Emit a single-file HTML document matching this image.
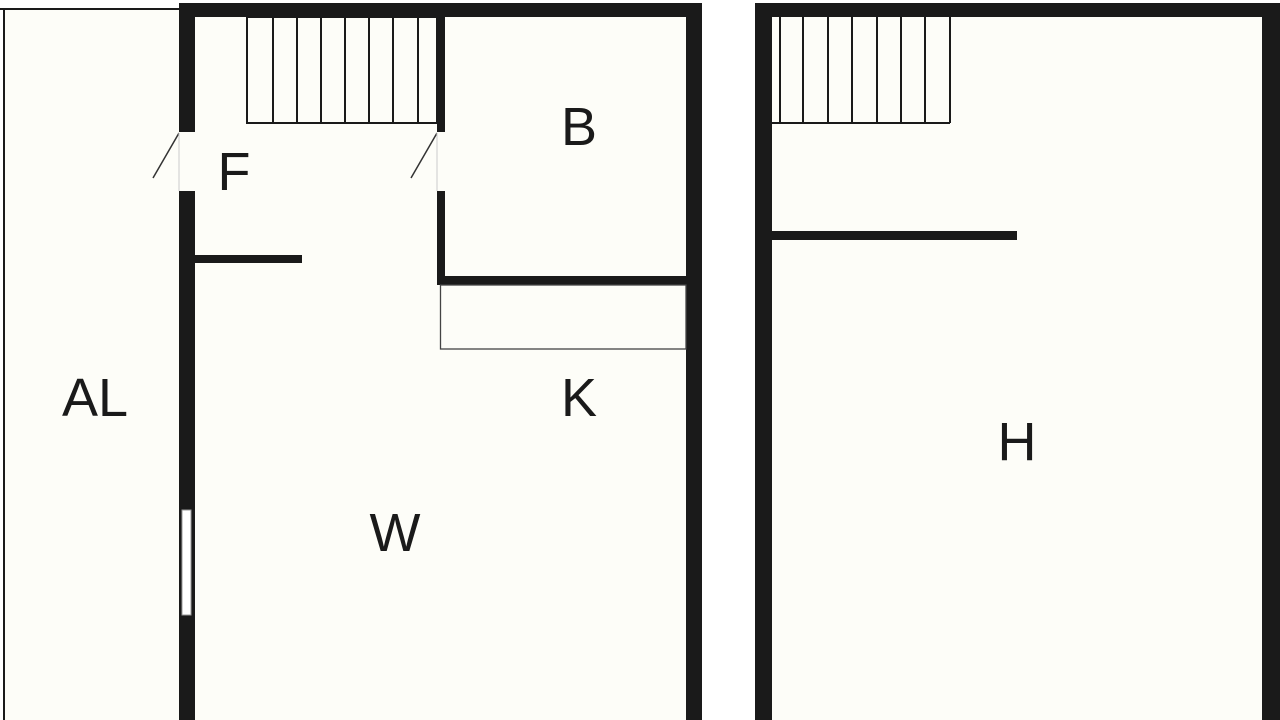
<!DOCTYPE html>
<html><head><style>html,body{margin:0;padding:0;background:#fff;width:1280px;height:720px;overflow:hidden}</style></head>
<body>
<svg width="1280" height="720" xmlns="http://www.w3.org/2000/svg" font-family="Liberation Sans, sans-serif">
<rect x="0" y="0" width="1280" height="720" fill="#fff"/>
<rect x="4" y="9" width="176" height="711" fill="#fdfdf8"/>
<rect x="179" y="3" width="523" height="717" fill="#fdfdf8"/>
<rect x="755" y="3" width="525" height="717" fill="#fdfdf8"/>
<g fill="#1a1a1a">
<!-- AL outline -->
<rect x="0" y="8" width="180" height="2"/>
<rect x="3" y="8" width="2" height="712"/>
<!-- left building -->
<rect x="179" y="3" width="523" height="14"/>
<rect x="179" y="3" width="16" height="129"/>
<rect x="179" y="191" width="16" height="529"/>
<rect x="686" y="3" width="16" height="717"/>
<rect x="195" y="255" width="107" height="8"/>
<rect x="437" y="17" width="8" height="115"/>
<rect x="437" y="191" width="8" height="94"/>
<rect x="437" y="276" width="249" height="9"/>
<!-- right building -->
<rect x="755" y="3" width="525" height="14"/>
<rect x="755" y="3" width="17" height="717"/>
<rect x="1262" y="3" width="18" height="717"/>
<rect x="772" y="231" width="245" height="9"/>
</g>
<!-- window -->
<rect x="182" y="510" width="9" height="105" fill="#fff" stroke="#999" stroke-width="1"/>
<g stroke="#1a1a1a" stroke-width="2" fill="none">
<rect x="247" y="17" width="190" height="106"/>
<line x1="273" y1="17" x2="273" y2="123"/><line x1="297" y1="17" x2="297" y2="123"/>
<line x1="321" y1="17" x2="321" y2="123"/><line x1="345" y1="17" x2="345" y2="123"/>
<line x1="369" y1="17" x2="369" y2="123"/><line x1="393" y1="17" x2="393" y2="123"/>
<line x1="418" y1="17" x2="418" y2="123"/>
<line x1="772" y1="123" x2="950" y2="123"/><line x1="950" y1="17" x2="950" y2="123"/>
<line x1="780" y1="17" x2="780" y2="123"/><line x1="803" y1="17" x2="803" y2="123"/>
<line x1="828" y1="17" x2="828" y2="123"/><line x1="852" y1="17" x2="852" y2="123"/>
<line x1="877" y1="17" x2="877" y2="123"/><line x1="901" y1="17" x2="901" y2="123"/>
<line x1="925" y1="17" x2="925" y2="123"/>
</g>
<g stroke="#333" stroke-width="1.5">
<line x1="179" y1="133" x2="153" y2="178"/>
<line x1="437" y1="133" x2="411" y2="178"/>
</g>
<g stroke="#ccc" stroke-width="1">
<line x1="179" y1="133" x2="179" y2="191"/>
<line x1="437" y1="133" x2="437" y2="191"/>
</g>
<rect x="440.5" y="285" width="245.5" height="64" fill="none" stroke="#444" stroke-width="1.3"/>
<g fill="#1a1a1a" font-size="54" text-anchor="middle">
<text x="234" y="190">F</text>
<text x="579" y="145">B</text>
<text x="579" y="416">K</text>
<text x="95" y="416">AL</text>
<text x="395" y="551">W</text>
<text x="1017" y="460">H</text>
</g>
</svg>
</body></html>
